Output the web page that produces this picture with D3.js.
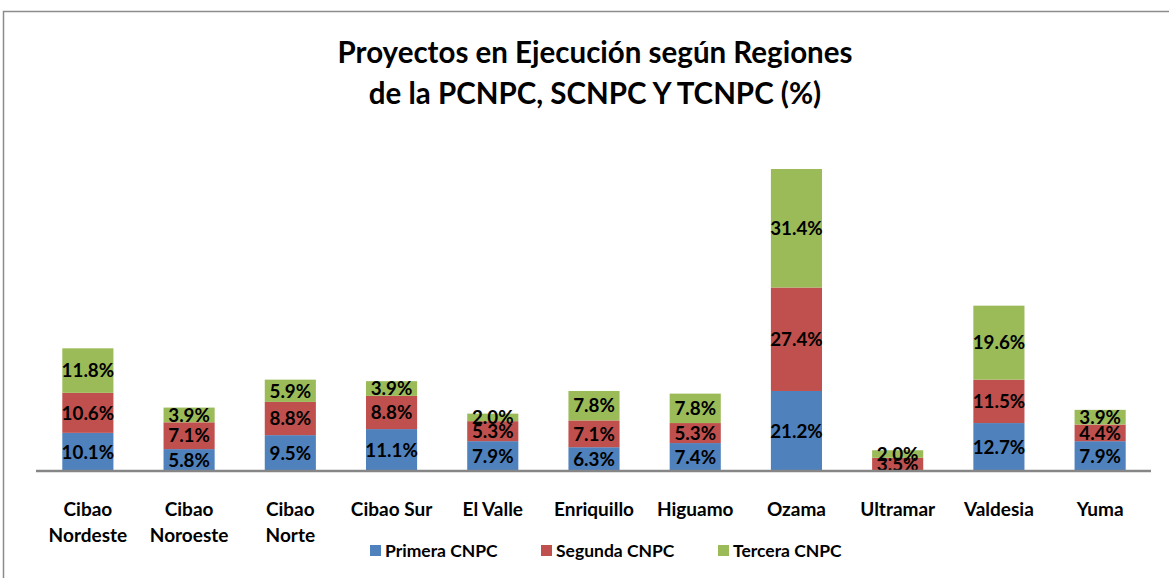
<!DOCTYPE html>
<html>
<head>
<meta charset="utf-8">
<script src="https://cdn.jsdelivr.net/npm/d3@7"></script>
<style>
  body { margin: 0; background: #fff; }
  text { font-family: Lato, "Open Sans", sans-serif; font-weight: bold; }
</style>
</head>
<body>
<div id="chart"></div>
<script>
// data
const regions = ["Cibao Nordeste", "Cibao Noroeste", "Cibao Norte", "Cibao Sur", "El Valle",
  "Enriquillo", "Higuamo", "Ozama", "Ultramar", "Valdesia", "Yuma"];
const primera = [10.1, 5.8, 9.5, 11.1, 7.9, 6.3, 7.4, 21.2, 0, 12.7, 7.9];
const segunda = [10.6, 7.1, 8.8, 8.8, 5.3, 7.1, 5.3, 27.4, 3.5, 11.5, 4.4];
const tercera = [11.8, 3.9, 5.9, 3.9, 2.0, 7.8, 7.8, 31.4, 2.0, 19.6, 3.9];
const seriesNames = ["Primera CNPC", "Segunda CNPC", "Tercera CNPC"];
const colors = ["#4F81BD", "#C0504D", "#9BBB59"];

const width = 1169;
const height = 578;
const margin = { top: 169, right: 18, bottom: 107, left: 37 };

const svg = d3.select("#chart")
  .append("svg")
  .attr("width", width)
  .attr("height", height);

// chart border
svg.append("rect")
  .attr("x", 3.5).attr("y", 11.5)
  .attr("width", width + 10).attr("height", height + 10)
  .attr("fill", "none")
  .attr("stroke", "#8c8c8c")
  .attr("stroke-width", 1.5);

// title
svg.append("text")
  .attr("x", 595).attr("y", 63)
  .attr("text-anchor", "middle")
  .style("font-size", "29.5px")
  .text("Proyectos en Ejecución según Regiones");
svg.append("text")
  .attr("x", 595).attr("y", 104)
  .attr("text-anchor", "middle")
  .style("font-size", "29.5px")
  .text("de la PCNPC, SCNPC Y TCNPC (%)");

const table = regions.map((r, i) => ({
  region: r, s0: primera[i], s1: segunda[i], s2: tercera[i]
}));
const stacked = d3.stack().keys(["s0", "s1", "s2"])(table);

const xScale = d3.scaleBand()
  .domain(regions)
  .range([margin.left, width - margin.right])
  .paddingInner(0.495)
  .paddingOuter(0.25);

const yScale = d3.scaleLinear()
  .domain([0, 80])
  .range([height - margin.bottom, margin.top]);

const groups = svg.selectAll(".serie")
  .data(stacked)
  .enter().append("g")
  .attr("fill", (d, i) => colors[i]);

groups.selectAll("rect")
  .data(d => d)
  .enter().append("rect")
  .attr("x", d => xScale(d.data.region))
  .attr("width", xScale.bandwidth())
  .attr("y", d => yScale(d[1]))
  .attr("height", d => yScale(d[0]) - yScale(d[1]));

// value labels
groups.selectAll("text")
  .data(d => d.filter(v => v[1] - v[0] > 0))
  .enter().append("text")
  .attr("x", d => xScale(d.data.region) + xScale.bandwidth() / 2)
  .attr("y", d => (yScale(d[0]) + yScale(d[1])) / 2)
  .attr("dy", "0.36em")
  .attr("text-anchor", "middle")
  .attr("fill", "#000")
  .style("font-size", "18.8px")
  .text(d => (d[1] - d[0]).toFixed(1) + "%");

// x axis
const xAxis = svg.append("g")
  .attr("transform", `translate(0,${height - margin.bottom})`)
  .call(d3.axisBottom(xScale).tickSize(0).tickSizeOuter(0));
xAxis.select(".domain").attr("stroke", "#868686").attr("stroke-width", 2.5)
  .attr("d", `M${margin.left - 1},0H${width - margin.right}`);
xAxis.selectAll(".tick text").remove();

xAxis.selectAll(".tick").each(function(d) {
  const words = d.split(" ");
  const lines = (words.length > 1 && d !== "Cibao Sur" && d !== "El Valle") ? words : [d];
  const t = d3.select(this).append("text")
    .attr("text-anchor", "middle")
    .attr("fill", "#000")
    .style("font-size", "19px")
    .style("font-family", "Lato, sans-serif");
  lines.forEach((w, i) => {
    t.append("tspan").attr("x", 0).attr("y", 45 + i * 26).text(w);
  });
});

// legend
const legendX = [370, 541, 718];
const legend = svg.selectAll(".legend")
  .data(seriesNames)
  .enter().append("g")
  .attr("transform", (d, i) => `translate(${legendX[i]},545)`);
legend.append("rect")
  .attr("width", 11).attr("height", 11)
  .attr("fill", (d, i) => colors[i]);
legend.append("text")
  .attr("x", 15).attr("y", 12)
  .style("font-size", "17.5px")
  .text(d => d);
</script>
</body>
</html>
